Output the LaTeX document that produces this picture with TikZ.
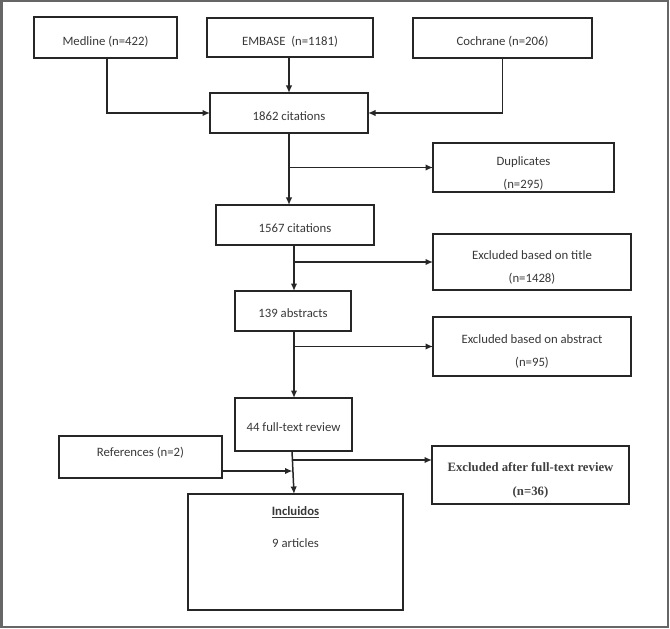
\documentclass[tikz,border=0pt]{standalone}
\usepackage{fontspec}
\setmainfont{Carlito}
\newfontfamily\serifx{Liberation Serif}
\usetikzlibrary{arrows.meta,calc}
\begin{document}
\begin{tikzpicture}[x=1bp,y=-1bp,
  box/.style={draw=black!85,line width=1.5bp,inner sep=0pt,outer sep=0pt},
  txt/.style={text=black!78,font=\fontsize{12.8}{23}\selectfont,inner sep=0pt,align=center},
  stxt/.style={text=black!75,font=\serifx\bfseries\fontsize{12.8}{24}\selectfont,inner sep=0pt,align=center},
  ln/.style={line width=1.5bp,draw=black!85},
  arr/.style={ln,-{Latex[length=7.5bp,width=6.5bp]}}]
\useasboundingbox (0,0) rectangle (670,629);
\draw[line width=2bp,draw=black!60] (1.5,1.5) rectangle (668,627);

% boxes
\node[box,minimum width=143bp,minimum height=41bp] (med) at (105.5,37.5) {};
\node[box,minimum width=166bp,minimum height=39bp] (emb) at (290,37.5) {};
\node[box,minimum width=179bp,minimum height=40bp] (coc) at (502.5,38) {};
\node[box,minimum width=158bp,minimum height=40bp] (c1862) at (289,113) {};
\node[box,minimum width=181bp,minimum height=49bp] (dup) at (523.5,167.5) {};
\node[box,minimum width=158bp,minimum height=40bp] (c1567) at (295,225) {};
\node[box,minimum width=198bp,minimum height=56bp] (extitle) at (532,262) {};
\node[box,minimum width=116bp,minimum height=40bp] (abs139) at (293,311) {};
\node[box,minimum width=198bp,minimum height=59bp] (exabs) at (532,346.5) {};
\node[box,minimum width=117bp,minimum height=53bp] (ft44) at (293.5,424.5) {};
\node[box,minimum width=163bp,minimum height=42bp] (refs) at (140.5,457) {};
\node[box,minimum width=197bp,minimum height=58bp] (exft) at (530.5,475) {};
\node[box,minimum width=215bp,minimum height=116bp] (incl) at (295.5,552) {};

% texts
\node[txt] (medT) at (105.5,41.5) {Medline (n=422)};
\node[txt] (embT) at (290,41.5) {EMBASE~ (n=1181)};
\node[txt] (cocT) at (502.5,41.5) {Cochrane (n=206)};
\node[txt] (c1862T) at (289,116.5) {1862 citations};
\node[txt] (dupT) at (523.5,173.5) {Duplicates\\(n=295)};
\node[txt] (c1567T) at (295,228) {1567 citations};
\node[txt] (extitleT) at (532,267.5) {Excluded based on title\\(n=1428)};
\node[txt] (abs139T) at (293,313.5) {139 abstracts};
\node[txt] (exabsT) at (532,351.5) {Excluded based on abstract\\(n=95)};
\node[txt] (ft44T) at (293.5,427) {44 full-text review};
\node[txt] (refsT) at (140.5,453) {References (n=2)};
\node[stxt] (exftT) at (530.5,480) {Excluded after full-text review\\(n=36)};
\node[txt,font=\bfseries\fontsize{12.8}{14}\selectfont] (inclT) at (295.5,512) {\underline{Incluidos}};
\node[txt] (inclN) at (295.5,543) {9 articles};

% connectors
\draw[arr] ([xshift=1.5bp]med.south) |- (c1862.west);
\draw[arr] (emb.south -| c1862.north) -- (c1862.north);
\draw[arr] (coc.south) |- (c1862.east);
\draw[arr] (c1862.south) -- (c1862.south |- c1567.north);
\draw[arr] (c1862.south |- dup.west) -- (dup.west);
\draw[arr] ([xshift=-1bp]c1567.south) -- ([xshift=-1bp]c1567.south |- abs139.north);
\draw[arr] ([xshift=-1bp]c1567.south |- extitle.west) -- (extitle.west);
\draw[arr] ([xshift=1bp]abs139.south) -- ([xshift=1bp]abs139.south |- ft44.north);
\draw[arr] ([xshift=1bp]abs139.south |- exabs.west) -- (exabs.west);
\draw[arr] ([xshift=-1.5bp]ft44.south) -- ([xshift=-1.5bp]incl.north);
\coordinate (brFT) at ($(ft44.south)+(-1,9)$);
\draw[arr] (brFT) -- (brFT -| exft.west);
\coordinate (refIn) at ($(refs.south east)+(0,-7)$);
\draw[arr] (refIn) -- (refIn -| brFT);
\end{tikzpicture}
\end{document}
